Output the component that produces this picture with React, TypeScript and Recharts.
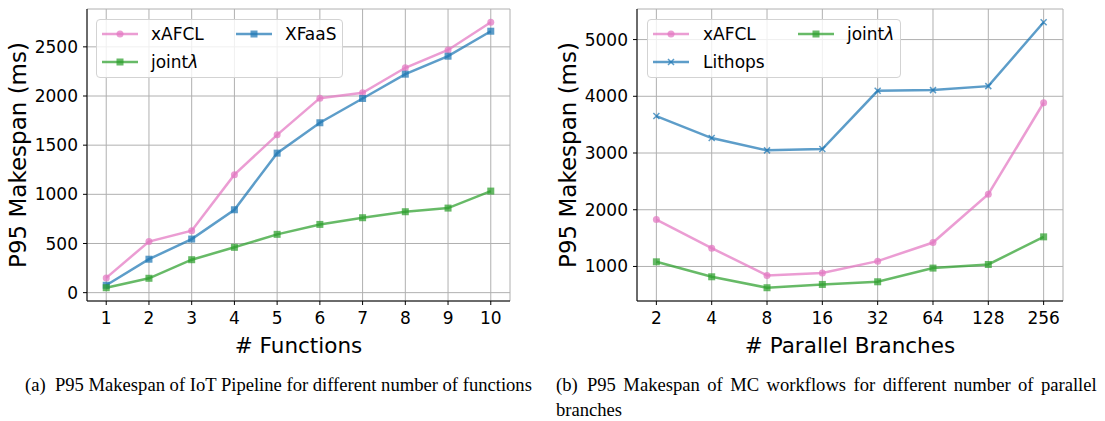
import React from 'react';
import { LineChart, Line, XAxis, YAxis, CartesianGrid, Legend } from 'recharts';

// (a) IoT pipeline, # functions
const fnCounts = [1, 2, 3, 4, 5, 6, 7, 8, 9, 10];
const iotXafcl = [150, 520, 630, 1200, 1605, 1978, 2033, 2287, 2468, 2750];
const iotXfaas = [75, 340, 545, 843, 1419, 1728, 1975, 2222, 2405, 2659];
const iotJoint = [50, 146, 335, 461, 593, 694, 762, 823, 860, 1033];
const iotYTicks = [0, 500, 1000, 1500, 2000, 2500];

// (b) MC workflows, # parallel branches (log x)
const branches = [2, 4, 8, 16, 32, 64, 128, 256];
const mcXafcl = [1827, 1323, 842, 883, 1094, 1422, 2273, 3886];
const mcLithops = [3651, 3264, 3047, 3070, 4097, 4109, 4179, 5305];
const mcJoint = [1082, 818, 625, 683, 730, 971, 1035, 1522];
const mcYTicks = [1000, 2000, 3000, 4000, 5000];
const mcMinorTicks = [3, 5, 6, 7, 9, 10, 20, 30, 40, 50, 60, 70, 80, 90, 100, 200, 300];

const PINK = '#e377c2';
const BLUE = '#1f77b4';
const GREEN = '#2ca02c';
const ALPHA = 0.72;
const FONT = '"DejaVu Sans", sans-serif';

type Marker = 'circle' | 'square' | 'x';

function markerShape(kind: Marker, cx: number, cy: number, color: string, key?: string | number) {
  if (kind === 'circle') return <circle key={key} cx={cx} cy={cy} r={3.5} fill={color} fillOpacity={ALPHA} />;
  if (kind === 'square')
    return <rect key={key} x={cx - 3.5} y={cy - 3.5} width={7} height={7} fill={color} fillOpacity={ALPHA} />;
  return (
    <path
      key={key}
      d={`M${cx - 3},${cy - 3}L${cx + 3},${cy + 3}M${cx + 3},${cy - 3}L${cx - 3},${cy + 3}`}
      stroke={color}
      strokeOpacity={ALPHA}
      strokeWidth={1.5}
      fill="none"
    />
  );
}

const dotOf = (kind: Marker, color: string) => (p: any) => markerShape(kind, p.cx, p.cy, color, `d${p.index}`);

interface LegendItem {
  name: React.ReactNode;
  color: string;
  marker: Marker;
  hx: number;
  tx: number;
  cy: number;
}

function LegendBox({ items, width }: { items: LegendItem[]; width: number }) {
  return (
    <div
      style={{
        position: 'relative',
        width,
        height: 59,
        boxSizing: 'border-box',
        background: 'rgba(255,255,255,0.8)',
        border: '1px solid #d3d3d3',
        borderRadius: 4,
        fontFamily: FONT,
        fontSize: 17,
        color: '#000',
      }}
    >
      {items.map((it, i) => (
        <React.Fragment key={i}>
          <svg width={36} height={10} style={{ position: 'absolute', left: it.hx, top: it.cy - 5 }}>
            <line x1={0} x2={36} y1={5} y2={5} stroke={it.color} strokeOpacity={ALPHA} strokeWidth={2.5} />
            {markerShape(it.marker, 18, 5, it.color)}
          </svg>
          <span style={{ position: 'absolute', left: it.tx, top: it.cy - 11, lineHeight: '22px', whiteSpace: 'nowrap' }}>
            {it.name}
          </span>
        </React.Fragment>
      ))}
    </div>
  );
}

const jointName = (
  <>
    joint<i>λ</i>
  </>
);

const tickStyle = { fill: '#000', fontSize: 17, fontFamily: FONT };

const yLabel = (text: string) => (props: any) => {
  const vb = props.viewBox;
  const x = 18;
  const y = vb.y + vb.height / 2;
  return (
    <text x={x} y={y} transform={`rotate(-90 ${x} ${y})`} textAnchor="middle" dominantBaseline="central" fontSize={23} fontFamily={FONT} fill="#000">
      {text}
    </text>
  );
};

const xLabel = (text: string) => (props: any) => {
  const vb = props.viewBox;
  return (
    <text x={vb.x + vb.width / 2} y={vb.y + 52} textAnchor="middle" fontSize={21.5} fontFamily={FONT} fill="#000">
      {text}
    </text>
  );
};

function IotChart() {
  const data = fnCounts.map((n, i) => ({ n, xafcl: iotXafcl[i], xfaas: iotXfaas[i], joint: iotJoint[i] }));
  const items: LegendItem[] = [
    { name: 'xAFCL', color: PINK, marker: 'circle', hx: 5, tx: 54, cy: 14 },
    { name: jointName, color: GREEN, marker: 'square', hx: 5, tx: 54, cy: 42 },
    { name: 'XFaaS', color: BLUE, marker: 'square', hx: 139, tx: 188, cy: 14 },
  ];
  return (
    <LineChart width={555} height={370} data={data} margin={{ top: 9, right: 45, bottom: 0, left: 0 }} style={{ fontFamily: FONT }}>
      <CartesianGrid stroke="#b0b0b0" strokeWidth={1} />
      <XAxis
        dataKey="n"
        type="number"
        domain={[0.55, 10.45]}
        ticks={fnCounts}
        allowDataOverflow
        height={69}
        tick={tickStyle}
        tickSize={4}
        tickMargin={7}
        tickLine={{ stroke: '#000' }}
        axisLine={{ stroke: '#000', strokeWidth: 1 }}
        label={{ content: xLabel('# Functions') }}
      />
      <YAxis
        type="number"
        domain={[-85, 2885]}
        ticks={iotYTicks}
        allowDataOverflow
        width={87}
        tick={tickStyle}
        tickSize={4}
        tickMargin={5}
        tickLine={{ stroke: '#000' }}
        axisLine={{ stroke: '#000', strokeWidth: 1 }}
        label={{ content: yLabel('P95 Makespan (ms)') }}
      />
      <Legend
        layout="vertical"
        align="center"
        verticalAlign="middle"
        wrapperStyle={{ left: 96, top: 19, width: 247 }}
        content={() => <LegendBox items={items} width={247} />}
      />
      <Line dataKey="xafcl" stroke={PINK} strokeOpacity={ALPHA} strokeWidth={2.5} dot={dotOf('circle', PINK)} isAnimationActive={false} />
      <Line dataKey="xfaas" stroke={BLUE} strokeOpacity={ALPHA} strokeWidth={2.5} dot={dotOf('square', BLUE)} isAnimationActive={false} />
      <Line dataKey="joint" stroke={GREEN} strokeOpacity={ALPHA} strokeWidth={2.5} dot={dotOf('square', GREEN)} isAnimationActive={false} />
    </LineChart>
  );
}

function McChart() {
  const data = branches.map((b, i) => ({ b, xafcl: mcXafcl[i], lithops: mcLithops[i], joint: mcJoint[i] }));
  const items: LegendItem[] = [
    { name: 'xAFCL', color: PINK, marker: 'circle', hx: 5, tx: 55, cy: 14 },
    { name: 'Lithops', color: BLUE, marker: 'x', hx: 5, tx: 55, cy: 42 },
    { name: jointName, color: GREEN, marker: 'square', hx: 150, tx: 199, cy: 14 },
  ];
  const xDomain = [1.569, 326.3];
  return (
    <LineChart width={555} height={370} data={data} margin={{ top: 9, right: 42, bottom: 0, left: 0 }} style={{ fontFamily: FONT }}>
      <CartesianGrid stroke="#b0b0b0" strokeWidth={1} xAxisId={1} />
      {/* minor ticks only, sits right on the plot edge */}
      <XAxis
        xAxisId={0}
        dataKey="b"
        type="number"
        scale="log"
        domain={xDomain}
        ticks={mcMinorTicks}
        allowDataOverflow
        height={0}
        tick={false}
        tickSize={2}
        tickLine={{ stroke: '#000' }}
        axisLine={false}
      />
      <XAxis
        xAxisId={1}
        dataKey="b"
        type="number"
        scale="log"
        domain={xDomain}
        ticks={branches}
        allowDataOverflow
        height={69}
        tick={tickStyle}
        tickSize={4}
        tickMargin={7}
        tickLine={{ stroke: '#000' }}
        axisLine={{ stroke: '#000', strokeWidth: 1 }}
        label={{ content: xLabel('# Parallel Branches') }}
      />
      <YAxis
        type="number"
        domain={[391, 5539]}
        ticks={mcYTicks}
        allowDataOverflow
        width={87}
        tick={tickStyle}
        tickSize={4}
        tickMargin={5}
        tickLine={{ stroke: '#000' }}
        axisLine={{ stroke: '#000', strokeWidth: 1 }}
        label={{ content: yLabel('P95 Makespan (ms)') }}
      />
      <Legend
        layout="vertical"
        align="center"
        verticalAlign="middle"
        wrapperStyle={{ left: 97, top: 19, width: 254 }}
        content={() => <LegendBox items={items} width={254} />}
      />
      <Line xAxisId={1} dataKey="xafcl" stroke={PINK} strokeOpacity={ALPHA} strokeWidth={2.5} dot={dotOf('circle', PINK)} isAnimationActive={false} />
      <Line xAxisId={1} dataKey="lithops" stroke={BLUE} strokeOpacity={ALPHA} strokeWidth={2.5} dot={dotOf('x', BLUE)} isAnimationActive={false} />
      <Line xAxisId={1} dataKey="joint" stroke={GREEN} strokeOpacity={ALPHA} strokeWidth={2.5} dot={dotOf('square', GREEN)} isAnimationActive={false} />
    </LineChart>
  );
}

const captionStyle: React.CSSProperties = {
  position: 'absolute',
  fontFamily: '"Liberation Serif", "Times New Roman", serif',
  fontSize: 18.6,
  lineHeight: '25px',
  color: '#000',
  whiteSpace: 'nowrap',
};

export default function App() {
  return (
    <div style={{ position: 'absolute', left: 0, top: 0, width: 1105, height: 421, overflow: 'hidden', background: '#fff' }}>
      <div style={{ position: 'absolute', left: 0, top: 0 }}>
        <IotChart />
      </div>
      <div style={{ position: 'absolute', left: 550, top: 0 }}>
        <McChart />
      </div>
      <div style={{ ...captionStyle, left: 25, top: 372 }}>(a)&ensp;P95 Makespan of IoT Pipeline for different number of functions</div>
      <div style={{ ...captionStyle, left: 556, top: 372 }}>
        {/* first line is justified in the source, hence the wider word gaps */}
        <span style={{ wordSpacing: 2.8 }}>(b)&ensp;P95 Makespan of MC workflows for different number of parallel</span>
        <br />
        branches
      </div>
    </div>
  );
}
